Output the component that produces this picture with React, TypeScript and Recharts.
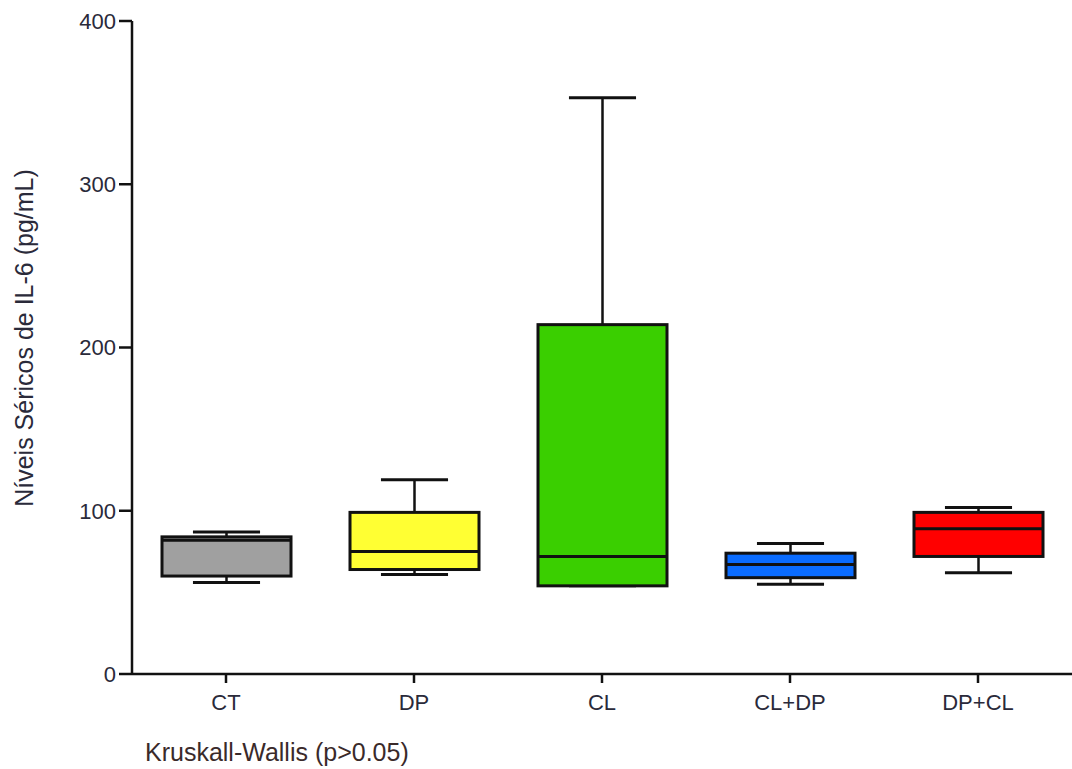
import React from 'react';
import { ComposedChart, Bar, XAxis, YAxis } from 'recharts';

// box plot values (pg/mL)
const groups = ['CT', 'DP', 'CL', 'CL+DP', 'DP+CL'];
const mins = [56, 61, 54, 55, 62];
const q1s = [60, 64, 54, 59, 72];
const medians = [82, 75, 72, 67, 89];
const q3s = [84, 99, 214, 74, 99];
const maxs = [87, 119, 353, 80, 102];
const fills = ['#a0a0a0', '#ffff33', '#3acf00', '#0a6cff', '#ff0000'];
const yTicks = [0, 100, 200, 300, 400];

const data = groups.map((g, i) => ({
  group: g,
  min: mins[i],
  q1: q1s[i],
  median: medians[i],
  q3: q3s[i],
  max: maxs[i],
  fill: fills[i],
}));

const BoxShape = (props: any) => {
  const { x, y, width, height, payload } = props;
  const { min, q1, median, q3, max, fill } = payload;
  const k = height / (q3 - q1);
  const toY = (v: number) => y + (q3 - v) * k;
  const cx = x + width / 2;
  const capW = width * 0.52;
  return (
    <g>
      <line x1={cx} x2={cx} y1={toY(max)} y2={toY(q3)} stroke="#111" strokeWidth={2.5} />
      <line x1={cx - capW / 2} x2={cx + capW / 2} y1={toY(max)} y2={toY(max)} stroke="#111" strokeWidth={3} />
      <line x1={cx} x2={cx} y1={toY(q1)} y2={toY(min)} stroke="#111" strokeWidth={2.5} />
      <line x1={cx - capW / 2} x2={cx + capW / 2} y1={toY(min)} y2={toY(min)} stroke="#111" strokeWidth={3} />
      <rect x={x} y={y} width={width} height={height} fill={fill} stroke="#111" strokeWidth={3} />
      <line x1={x} x2={x + width} y1={toY(median)} y2={toY(median)} stroke="#111" strokeWidth={3} />
    </g>
  );
};

const font = 'Liberation Sans, Arial, sans-serif';
const textColor = '#2a2a3a';
const tickStyle = { fill: textColor, fontSize: 22, fontFamily: font };

export default function App() {
  return (
    <div style={{ position: 'absolute', left: 0, top: 0, width: 1072, height: 769, background: '#fff' }}>
      <ComposedChart
        width={1072}
        height={769}
        data={data}
        margin={{ top: 21, right: 0, left: 0, bottom: 55 }}
      >
        <XAxis
          dataKey="group"
          axisLine={{ stroke: '#111', strokeWidth: 2.5 }}
          tickLine={{ stroke: '#111', strokeWidth: 2.5 }}
          tickSize={9}
          tick={{ ...tickStyle, dy: 9 }}
          height={40}
        />
        <YAxis
          type="number"
          domain={[0, 400]}
          ticks={yTicks}
          width={132}
          axisLine={{ stroke: '#111', strokeWidth: 2.5 }}
          tickLine={{ stroke: '#111', strokeWidth: 2.5 }}
          tickSize={13}
          tickMargin={3}
          tick={tickStyle}
        />
        <Bar
          dataKey={(d: any) => [d.q1, d.q3]}
          barSize={129}
          shape={BoxShape}
          isAnimationActive={false}
        />
      </ComposedChart>
      <svg width={60} height={769} style={{ position: 'absolute', left: 0, top: 0 }}>
        <text
          x={24}
          y={338}
          transform="rotate(-90 24 338)"
          textAnchor="middle"
          dominantBaseline="central"
          fill={textColor}
          fontSize={25}
          fontFamily={font}
        >
          Níveis Séricos de IL-6 (pg/mL)
        </text>
      </svg>
      <div
        style={{
          position: 'absolute',
          left: 145,
          top: 738,
          fontSize: 25,
          color: '#3a2a2a',
          fontFamily: font,
          whiteSpace: 'nowrap',
        }}
      >
        Kruskall-Wallis (p&gt;0.05)
      </div>
    </div>
  );
}
